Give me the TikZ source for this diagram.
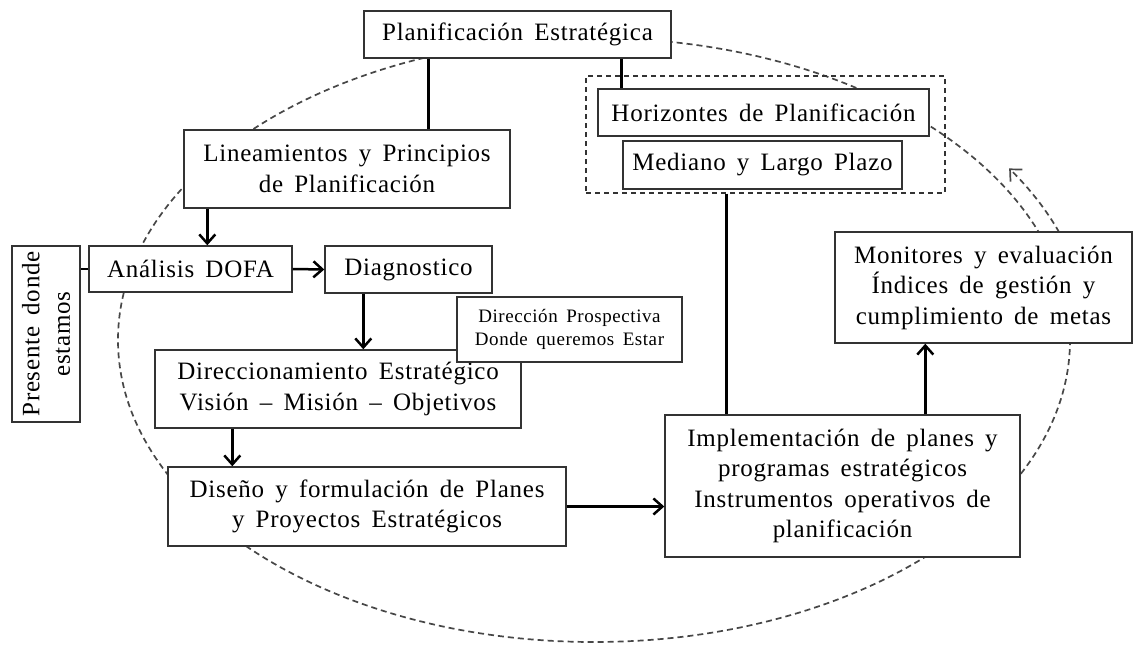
\documentclass[tikz,border=0pt]{standalone}
\usepackage{fontspec}
\setmainfont[LetterSpace=3,WordSpace=1.6]{Liberation Serif}
\usetikzlibrary{arrows.meta}

\begin{document}
\begin{tikzpicture}[x=1pt,y=-1pt]

\def\lw{1.4pt}
\def\cw{2.5pt}

\tikzset{caja/.style = {draw=black!80, fill=white, line width=\lw, align=center, inner sep=0pt, font=\fontsize{25}{30.5}\selectfont}}
\tikzset{lazo/.style = {draw=black, line width=\cw}}
\tikzset{flecha/.style = {lazo, -{Straight Barb[length=9pt,width=16pt]}}}
\tikzset{ciclo/.style = {draw=black!72, line width=1.7pt, dash pattern=on 6pt off 4pt}}

\useasboundingbox (0,0) rectangle (1133,648);

% ciclo
\coordinate (E) at (594,340);
\draw[ciclo] (E) ellipse [x radius=476pt, y radius=302pt];
\draw[ciclo, -{Straight Barb[length=9pt,width=17pt]}] (E) ++(20:495pt and 315pt) arc [start angle=20, end angle=33, x radius=495pt, y radius=315pt];

\node[draw=black!80, line width=\lw, dash pattern=on 5pt off 4pt, minimum width=359pt, minimum height=117pt] (HZ) at (765.5,134.5) {};

\node[caja, minimum width=307pt, minimum height=47pt] (PE) at (517.5,34.5) {Planificación Estratégica};
\node[caja, minimum width=326pt, minimum height=78pt] (LP) at (347,169) {Lineamientos y Principios\\de Planificación};
\node[caja, minimum width=203pt, minimum height=46pt] (AD) at (190.5,269) {Análisis DOFA};
\node[caja, rotate=90, minimum width=176pt, minimum height=68pt] (PD) at (46,334) {Presente donde\\estamos};
\node[caja, minimum width=167pt, minimum height=47pt] (DG) at (408.5,269.5) {Diagnostico};
\node[caja, minimum width=366pt, minimum height=78pt] (DE) at (338,389) {Direccionamiento Estratégico\\Visión -- Misión -- Objetivos};
\node[caja, minimum width=225pt, minimum height=65pt, font=\fontsize{19}{23}\selectfont] (DP) at (569.5,329.5) {Dirección Prospectiva\\Donde queremos Estar};
\node[caja, minimum width=398pt, minimum height=79pt] (DF) at (367,506.5) {Diseño y formulación de Planes\\y Proyectos Estratégicos};
\node[caja, minimum width=355pt, minimum height=142pt] (IM) at (842.5,486) {Implementación de planes y\\programas estratégicos\\Instrumentos operativos de\\planificación};
\node[caja, minimum width=331pt, minimum height=47pt] (HP) at (763.5,112.5) {Horizontes de Planificación};
\node[caja, minimum width=279pt, minimum height=48pt] (ML) at (762.5,165) {Mediano y Largo Plazo};
\node[caja, minimum width=297pt, minimum height=111pt] (MO) at (983.5,287.5) {Monitores y evaluación\\Índices de gestión y\\cumplimiento de metas};

\draw[lazo] ([xshift=65pt]PE.south west) -- ([xshift=65pt]PE.south west |- LP.north);
\draw[lazo] ([xshift=258pt]PE.south west) -- ([xshift=258pt]PE.south west |- HP.north);
\draw[flecha] ([xshift=24pt]LP.south west) -- ([xshift=24pt]LP.south west |- AD.north);
\draw[lazo] (AD.west) -- (AD.west -| PD.south);
\draw[flecha] (AD.east) -- (DG.west);
\draw[flecha] ([xshift=39pt]DG.south west) -- ([xshift=39pt]DG.south west |- DE.north);
\draw[flecha] ([xshift=78pt]DE.south west) -- ([xshift=78pt]DE.south west |- DF.north);
\draw[flecha] (DF.east) -- (DF.east -| IM.west);
\draw[lazo] ([xshift=141pt]HZ.south west) -- ([xshift=141pt]HZ.south west |- IM.north);
\draw[flecha] ([xshift=261pt]IM.north west) -- ([xshift=261pt]IM.north west |- MO.south);

\end{tikzpicture}
\end{document}
